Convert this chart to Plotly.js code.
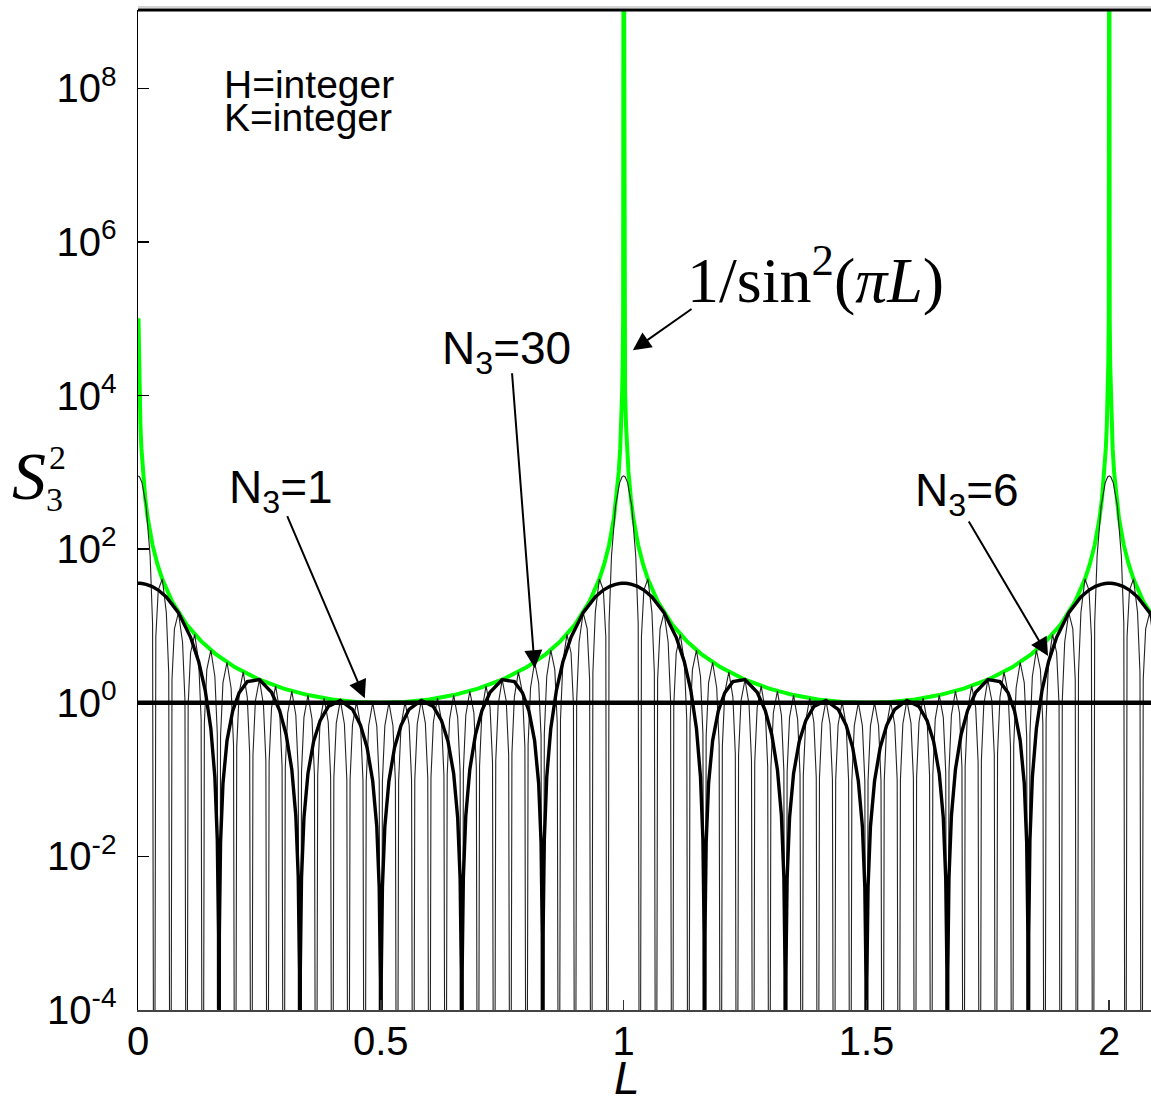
<!DOCTYPE html>
<html>
<head>
<meta charset="utf-8">
<script src="https://cdn.plot.ly/plotly-3.0.1.min.js"></script>
<style>
  html, body { margin: 0; padding: 0; background: #fff; }
  #chart { width: 1151px; height: 1101px; }
</style>
</head>
<body>
<div id="chart"></div>
<script>
// Interference function S3^2 versus L for H, K integer.

// Envelope 1/sin^2(pi L)
const L_ENV = [
  0.001,0.002,0.003,0.005,0.007,0.01,0.015,0.02,0.03,0.04,0.05,0.07,0.1,0.13,0.16,0.2,0.25,0.3,0.35,0.4,0.45,0.5,
  0.55,0.6,0.65,0.7,0.75,0.8,0.84,0.87,0.9,0.93,0.95,0.96,0.97,0.98,0.985,0.99,0.993,0.995,0.997,0.998,0.999,1,
  1.001,1.002,1.003,1.005,1.007,1.01,1.015,1.02,1.03,1.04,1.05,1.07,1.1,1.13,1.16,1.2,1.25,1.3,1.35,1.4,1.45,1.5,
  1.55,1.6,1.65,1.7,1.75,1.8,1.84,1.87,1.9,1.93,1.95,1.96,1.97,1.98,1.985,1.99,1.993,1.995,1.997,1.998,1.999,2,
  2.001,2.002,2.003,2.005,2.007,2.01,2.015,2.02,2.03,2.04,2.05,2.07,2.1
];
const S_ENV = [
  101320,25330,11258,4053,2068,1013.5,450.7,253.6,112.9,63.66,40.86,21.01,10.47,6.34,4.309,2.894,2,1.528,1.26,1.106,1.025,1,
  1.025,1.106,1.26,1.528,2,2.894,4.309,6.34,10.47,21.01,40.86,63.66,112.9,253.6,450.7,1013.5,2068,4053,11258,25330,101320,1e12,
  101320,25330,11258,4053,2068,1013.5,450.7,253.6,112.9,63.66,40.86,21.01,10.47,6.34,4.309,2.894,2,1.528,1.26,1.106,1.025,1,
  1.025,1.106,1.26,1.528,2,2.894,4.309,6.34,10.47,21.01,40.86,63.66,112.9,253.6,450.7,1013.5,2068,4053,11258,25330,101320,1e12,
  101320,25330,11258,4053,2068,1013.5,450.7,253.6,112.9,63.66,40.86,21.01,10.47
];

// N3 = 30
const L_N30 = [
  0,0.0033,0.0083,0.0167,0.025,0.03,
  0.0333,0.0367,0.0417,0.05,0.0583,0.0633,
  0.0667,0.07,0.075,0.0833,0.0917,0.0967,
  0.1,0.1033,0.1083,0.1167,0.125,0.13,
  0.1333,0.1367,0.1417,0.15,0.1583,0.1633,
  0.1667,0.17,0.175,0.1833,0.1917,0.1967,
  0.2,0.2033,0.2083,0.2167,0.225,0.23,
  0.2333,0.2367,0.2417,0.25,0.2583,0.2633,
  0.2667,0.27,0.275,0.2833,0.2917,0.2967,
  0.3,0.3033,0.3083,0.3167,0.325,0.33,
  0.3333,0.3367,0.3417,0.35,0.3583,0.3633,
  0.3667,0.37,0.375,0.3833,0.3917,0.3967,
  0.4,0.4033,0.4083,0.4167,0.425,0.43,
  0.4333,0.4367,0.4417,0.45,0.4583,0.4633,
  0.4667,0.47,0.475,0.4833,0.4917,0.4967,
  0.5,0.5033,0.5083,0.5167,0.525,0.53,
  0.5333,0.5367,0.5417,0.55,0.5583,0.5633,
  0.5667,0.57,0.575,0.5833,0.5917,0.5967,
  0.6,0.6033,0.6083,0.6167,0.625,0.63,
  0.6333,0.6367,0.6417,0.65,0.6583,0.6633,
  0.6667,0.67,0.675,0.6833,0.6917,0.6967,
  0.7,0.7033,0.7083,0.7167,0.725,0.73,
  0.7333,0.7367,0.7417,0.75,0.7583,0.7633,
  0.7667,0.77,0.775,0.7833,0.7917,0.7967,
  0.8,0.8033,0.8083,0.8167,0.825,0.83,
  0.8333,0.8367,0.8417,0.85,0.8583,0.8633,
  0.8667,0.87,0.875,0.8833,0.8917,0.8967,
  0.9,0.9033,0.9083,0.9167,0.925,0.93,
  0.9333,0.9367,0.9417,0.95,0.9583,0.9633,
  0.9667,0.97,0.975,0.9833,0.9917,0.9967,
  1,1.0033,1.0083,1.0167,1.025,1.03,
  1.0333,1.0367,1.0417,1.05,1.0583,1.0633,
  1.0667,1.07,1.075,1.0833,1.0917,1.0967,
  1.1,1.1033,1.1083,1.1167,1.125,1.13,
  1.1333,1.1367,1.1417,1.15,1.1583,1.1633,
  1.1667,1.17,1.175,1.1833,1.1917,1.1967,
  1.2,1.2033,1.2083,1.2167,1.225,1.23,
  1.2333,1.2367,1.2417,1.25,1.2583,1.2633,
  1.2667,1.27,1.275,1.2833,1.2917,1.2967,
  1.3,1.3033,1.3083,1.3167,1.325,1.33,
  1.3333,1.3367,1.3417,1.35,1.3583,1.3633,
  1.3667,1.37,1.375,1.3833,1.3917,1.3967,
  1.4,1.4033,1.4083,1.4167,1.425,1.43,
  1.4333,1.4367,1.4417,1.45,1.4583,1.4633,
  1.4667,1.47,1.475,1.4833,1.4917,1.4967,
  1.5,1.5033,1.5083,1.5167,1.525,1.53,
  1.5333,1.5367,1.5417,1.55,1.5583,1.5633,
  1.5667,1.57,1.575,1.5833,1.5917,1.5967,
  1.6,1.6033,1.6083,1.6167,1.625,1.63,
  1.6333,1.6367,1.6417,1.65,1.6583,1.6633,
  1.6667,1.67,1.675,1.6833,1.6917,1.6967,
  1.7,1.7033,1.7083,1.7167,1.725,1.73,
  1.7333,1.7367,1.7417,1.75,1.7583,1.7633,
  1.7667,1.77,1.775,1.7833,1.7917,1.7967,
  1.8,1.8033,1.8083,1.8167,1.825,1.83,
  1.8333,1.8367,1.8417,1.85,1.8583,1.8633,
  1.8667,1.87,1.875,1.8833,1.8917,1.8967,
  1.9,1.9033,1.9083,1.9167,1.925,1.93,
  1.9333,1.9367,1.9417,1.95,1.9583,1.9633,
  1.9667,1.97,1.975,1.9833,1.9917,1.9967,
  2,2.0033,2.0083,2.0167,2.025,2.03,
  2.0333,2.0367,2.0417,2.05,2.0583,2.0633,
  2.0667,2.07,2.075,2.0833,2.0917,2.0967,
  2.1
];
const S_N30 = [
  900,870.8,729.7,365.1,81.22,10.78,
  1e-9,7.228,29.35,40.86,15.06,2.444,
  1e-9,2.007,9.175,14.93,6.199,1.068,
  1e-9,0.9386,4.487,7.787,3.414,0.6054,
  1e-9,0.5511,2.698,4.852,2.196,0.3963,
  1e-9,0.3685,1.832,3.371,1.559,0.2846,
  1e-9,0.2686,1.349,2.525,1.185,0.2184,
  1e-9,0.2084,1.055,2,0.9503,0.1762,
  1e-9,0.1697,0.8647,1.656,0.7944,0.1482,
  1e-9,0.1437,0.7362,1.422,0.6878,0.1289,
  1e-9,0.1258,0.6474,1.26,0.6138,0.1155,
  1e-9,0.1134,0.5858,1.147,0.5627,0.1063,
  1e-9,0.1049,0.5439,1.072,0.5288,0.1003,
  1e-9,0.09938,0.5172,1.025,0.5087,0.09678,
  1e-9,0.09635,0.5031,1.003,0.5003,0.0955,
  1e-9,0.0955,0.5003,1.003,0.5031,0.09635,
  1e-9,0.09678,0.5087,1.025,0.5172,0.09938,
  1e-9,0.1003,0.5288,1.072,0.5439,0.1049,
  1e-9,0.1063,0.5627,1.147,0.5858,0.1134,
  1e-9,0.1155,0.6138,1.26,0.6474,0.1258,
  1e-9,0.1289,0.6878,1.422,0.7362,0.1437,
  1e-9,0.1482,0.7944,1.656,0.8647,0.1697,
  1e-9,0.1762,0.9503,2,1.055,0.2084,
  1e-9,0.2184,1.185,2.525,1.349,0.2686,
  1e-9,0.2846,1.559,3.371,1.832,0.3685,
  1e-9,0.3963,2.196,4.852,2.698,0.5511,
  1e-9,0.6054,3.414,7.787,4.487,0.9386,
  1e-9,1.068,6.199,14.93,9.175,2.007,
  1e-9,2.444,15.06,40.86,29.35,7.228,
  1e-9,10.78,81.22,365.1,729.7,870.8,
  900,870.8,729.7,365.1,81.22,10.78,
  1e-9,7.228,29.35,40.86,15.06,2.444,
  1e-9,2.007,9.175,14.93,6.199,1.068,
  1e-9,0.9386,4.487,7.787,3.414,0.6054,
  1e-9,0.5511,2.698,4.852,2.196,0.3963,
  1e-9,0.3685,1.832,3.371,1.559,0.2846,
  1e-9,0.2686,1.349,2.525,1.185,0.2184,
  1e-9,0.2084,1.055,2,0.9503,0.1762,
  1e-9,0.1697,0.8647,1.656,0.7944,0.1482,
  1e-9,0.1437,0.7362,1.422,0.6878,0.1289,
  1e-9,0.1258,0.6474,1.26,0.6138,0.1155,
  1e-9,0.1134,0.5858,1.147,0.5627,0.1063,
  1e-9,0.1049,0.5439,1.072,0.5288,0.1003,
  1e-9,0.09938,0.5172,1.025,0.5087,0.09678,
  1e-9,0.09635,0.5031,1.003,0.5003,0.0955,
  1e-9,0.0955,0.5003,1.003,0.5031,0.09635,
  1e-9,0.09678,0.5087,1.025,0.5172,0.09938,
  1e-9,0.1003,0.5288,1.072,0.5439,0.1049,
  1e-9,0.1063,0.5627,1.147,0.5858,0.1134,
  1e-9,0.1155,0.6138,1.26,0.6474,0.1258,
  1e-9,0.1289,0.6878,1.422,0.7362,0.1437,
  1e-9,0.1482,0.7944,1.656,0.8647,0.1697,
  1e-9,0.1762,0.9503,2,1.055,0.2084,
  1e-9,0.2184,1.185,2.525,1.349,0.2686,
  1e-9,0.2846,1.559,3.371,1.832,0.3685,
  1e-9,0.3963,2.196,4.852,2.698,0.5511,
  1e-9,0.6054,3.414,7.787,4.487,0.9386,
  1e-9,1.068,6.199,14.93,9.175,2.007,
  1e-9,2.444,15.06,40.86,29.35,7.228,
  1e-9,10.78,81.22,365.1,729.7,870.8,
  900,870.8,729.7,365.1,81.22,10.78,
  1e-9,7.228,29.35,40.86,15.06,2.444,
  1e-9,2.007,9.175,14.93,6.199,1.068,
  1e-9
];

// N3 = 6
const L_N6 = [
  0,0.0008,0.0033,0.0083,0.0167,0.0283,0.0417,0.0583,0.0833,0.1083,0.125,0.1383,0.15,0.1583,0.1633,0.1658,
  0.1667,0.1675,0.17,0.175,0.1833,0.195,0.2083,0.225,0.25,0.275,0.2917,0.305,0.3167,0.325,0.33,0.3325,
  0.3333,0.3342,0.3367,0.3417,0.35,0.3617,0.375,0.3917,0.4167,0.4417,0.4583,0.4717,0.4833,0.4917,0.4967,0.4992,
  0.5,0.5008,0.5033,0.5083,0.5167,0.5283,0.5417,0.5583,0.5833,0.6083,0.625,0.6383,0.65,0.6583,0.6633,0.6658,
  0.6667,0.6675,0.67,0.675,0.6833,0.695,0.7083,0.725,0.75,0.775,0.7917,0.805,0.8167,0.825,0.83,0.8325,
  0.8333,0.8342,0.8367,0.8417,0.85,0.8617,0.875,0.8917,0.9167,0.9417,0.9583,0.9717,0.9833,0.9917,0.9967,0.9992,
  1,1.0008,1.0033,1.0083,1.0167,1.0283,1.0417,1.0583,1.0833,1.1083,1.125,1.1383,1.15,1.1583,1.1633,1.1658,
  1.1667,1.1675,1.17,1.175,1.1833,1.195,1.2083,1.225,1.25,1.275,1.2917,1.305,1.3167,1.325,1.33,1.3325,
  1.3333,1.3342,1.3367,1.3417,1.35,1.3617,1.375,1.3917,1.4167,1.4417,1.4583,1.4717,1.4833,1.4917,1.4967,1.4992,
  1.5,1.5008,1.5033,1.5083,1.5167,1.5283,1.5417,1.5583,1.5833,1.6083,1.625,1.6383,1.65,1.6583,1.6633,1.6658,
  1.6667,1.6675,1.67,1.675,1.6833,1.695,1.7083,1.725,1.75,1.775,1.7917,1.805,1.8167,1.825,1.83,1.8325,
  1.8333,1.8342,1.8367,1.8417,1.85,1.8617,1.875,1.8917,1.9167,1.9417,1.9583,1.9717,1.9833,1.9917,1.9967,1.9992,
  2,2.0008,2.0033,2.0083,2.0167,2.0283,2.0417,2.0583,2.0833,2.1083
];
const S_N6 = [
  36,35.997,35.95,35.71,34.86,32.79,29.35,23.905,14.928,7.125,3.414,1.4618,0.46331,0.10748,0.016362,0.0009958,
  1e-9,0.000978,0.015217,0.08964,0.32192,0.78372,1.3492,1.8822,2,1.3729,0.7944,0.3871,0.13576,0.033661,0.005322,0.00032994,
  1e-9,0.00032797,0.0051957,0.031686,0.12028,0.31496,0.58579,0.89345,1.0718,0.82116,0.50867,0.26117,0.095755,0.024489,0.0039434,0.0002467,
  1e-9,0.0002467,0.0039434,0.024489,0.095755,0.26117,0.50867,0.82116,1.0718,0.89345,0.58579,0.31496,0.12028,0.031686,0.0051957,0.00032797,
  1e-9,0.00032994,0.005322,0.033661,0.13576,0.3871,0.7944,1.3729,2,1.8822,1.3492,0.78372,0.32192,0.08964,0.015217,0.000978,
  1e-9,0.0009958,0.016362,0.10748,0.46331,1.4618,3.414,7.125,14.928,23.905,29.35,32.79,34.86,35.71,35.95,35.997,
  36,35.997,35.95,35.71,34.86,32.79,29.35,23.905,14.928,7.125,3.414,1.4618,0.46331,0.10748,0.016362,0.0009958,
  1e-9,0.000978,0.015217,0.08964,0.32192,0.78372,1.3492,1.8822,2,1.3729,0.7944,0.3871,0.13576,0.033661,0.005322,0.00032994,
  1e-9,0.00032797,0.0051957,0.031686,0.12028,0.31496,0.58579,0.89345,1.0718,0.82116,0.50867,0.26117,0.095755,0.024489,0.0039434,0.0002467,
  1e-9,0.0002467,0.0039434,0.024489,0.095755,0.26117,0.50867,0.82116,1.0718,0.89345,0.58579,0.31496,0.12028,0.031686,0.0051957,0.00032797,
  1e-9,0.00032994,0.005322,0.033661,0.13576,0.3871,0.7944,1.3729,2,1.8822,1.3492,0.78372,0.32192,0.08964,0.015217,0.000978,
  1e-9,0.0009958,0.016362,0.10748,0.46331,1.4618,3.414,7.125,14.928,23.905,29.35,32.79,34.86,35.71,35.95,35.997,
  36,35.997,35.95,35.71,34.86,32.79,29.35,23.905,14.928,7.125
];

// N3 = 1
const L_N1 = [0, 2.1];
const S_N1 = [1, 1];

// Axis ticks
const X_TICKS = [0, 0.5, 1, 1.5, 2];
const X_TICK_TEXT = ['0', '0.5', '1', '1.5', '2'];
const Y_TICKS = [1e-4, 1e-2, 1, 1e2, 1e4, 1e6, 1e8];
const Y_TICK_TEXT = ['10<sup>-4</sup>', '10<sup>-2</sup>', '10<sup>0</sup>', '10<sup>2</sup>',
                     '10<sup>4</sup>', '10<sup>6</sup>', '10<sup>8</sup>'];

const SANS = 'Liberation Sans, Arial, sans-serif';
const SERIF = 'Liberation Serif, Times New Roman, serif';

const traces = [
  { x: L_ENV, y: S_ENV, type: 'scatter', mode: 'lines',
    line: { color: '#00ff00', width: 4 }, hoverinfo: 'skip' },
  { x: L_N30, y: S_N30, type: 'scatter', mode: 'lines',
    line: { color: '#222222', width: 1.1, simplify: false }, hoverinfo: 'skip' },
  { x: L_N6, y: S_N6, type: 'scatter', mode: 'lines',
    line: { color: '#000000', width: 3.4, simplify: false }, hoverinfo: 'skip' },
  { x: L_N1, y: S_N1, type: 'scatter', mode: 'lines',
    line: { color: '#000000', width: 4.5 }, hoverinfo: 'skip' }
];

function arrow(x, y, ax, ay) {
  return { x: x, y: y, ax: ax, ay: ay, xref: 'x', yref: 'y', axref: 'x', ayref: 'y',
           text: '', showarrow: true, arrowhead: 2, arrowsize: 1.8, arrowwidth: 2,
           arrowcolor: '#000' };
}
function label(x, y, text, size, family) {
  return { x: x, y: y, xref: 'x', yref: 'y', text: text, showarrow: false,
           font: { family: family || SANS, size: size, color: '#000' } };
}
function plabel(x, y, text, size, family, xanchor) {
  return { x: x, y: y, xref: 'paper', yref: 'paper', text: text, showarrow: false,
           xanchor: xanchor || 'center', yanchor: 'middle',
           font: { family: family || SANS, size: size, color: '#000' } };
}

const annotations = [
  // curve labels and pointers
  label(0.294, 2.77, 'N<sub>3</sub>=1', 46),
  arrow(0.467, 0.06, 0.306, 2.45),
  label(0.759, 4.57, 'N<sub>3</sub>=30', 46),
  arrow(0.817, 0.45, 0.770, 4.31),
  label(1.707, 2.73, 'N<sub>3</sub>=6', 46),
  arrow(1.874, 0.61, 1.709, 2.38),
  label(1.396, 5.56, '1/sin<sup>2</sup>(<i>πL</i>)', 64, SERIF),
  arrow(1.019, 4.59, 1.143, 5.14),
  // condition text
  plabel(0.083, 0.925, 'H=integer', 39, SANS, 'left'),
  plabel(0.083, 0.892, 'K=integer', 39, SANS, 'left'),
  // y axis title S_3^2
  plabel(-0.108, 0.534, '<i>S</i>', 68, SERIF),
  plabel(-0.079, 0.552, '2', 34, SERIF),
  plabel(-0.082, 0.511, '3', 34, SERIF),
  // x axis title
  plabel(0.4827, -0.068, '<i>L</i>', 46, SANS)
];

const layout = {
  width: 1151, height: 1101,
  margin: { l: 138, r: 0, t: 10, b: 91, pad: 0 },
  paper_bgcolor: '#ffffff', plot_bgcolor: '#ffffff',
  showlegend: false,
  font: { family: SANS, size: 40, color: '#000' },
  xaxis: {
    range: [0, 2.086], tickmode: 'array', tickvals: X_TICKS, ticktext: X_TICK_TEXT,
    ticks: 'inside', ticklen: 10, tickwidth: 1.5, tickcolor: '#333',
    showline: true, linecolor: '#444', linewidth: 2,
    showgrid: false, zeroline: false, ticklabelstandoff: -5,
    tickfont: { family: SANS, size: 40, color: '#000' }
  },
  yaxis: {
    type: 'log', range: [-4, 9.02], tickmode: 'array', tickvals: Y_TICKS, ticktext: Y_TICK_TEXT,
    ticks: 'inside', ticklen: 11, tickwidth: 1.5, tickcolor: '#000',
    showline: true, linecolor: '#000', linewidth: 1.5,
    showgrid: false, zeroline: false, ticklabelstandoff: 12,
    tickfont: { family: SANS, size: 40, color: '#000' }
  },
  shapes: [
    { type: 'line', xref: 'paper', yref: 'paper', x0: 0, x1: 1, y0: 1, y1: 1,
      line: { color: '#000', width: 3 } },
    { type: 'line', xref: 'paper', yref: 'paper', x0: 0, x1: 1, y0: 1.003, y1: 1.003,
      line: { color: '#aaa', width: 1 } }
  ],
  annotations: annotations
};

Plotly.newPlot('chart', traces, layout, { staticPlot: true, displayModeBar: false });
</script>
</body>
</html>
